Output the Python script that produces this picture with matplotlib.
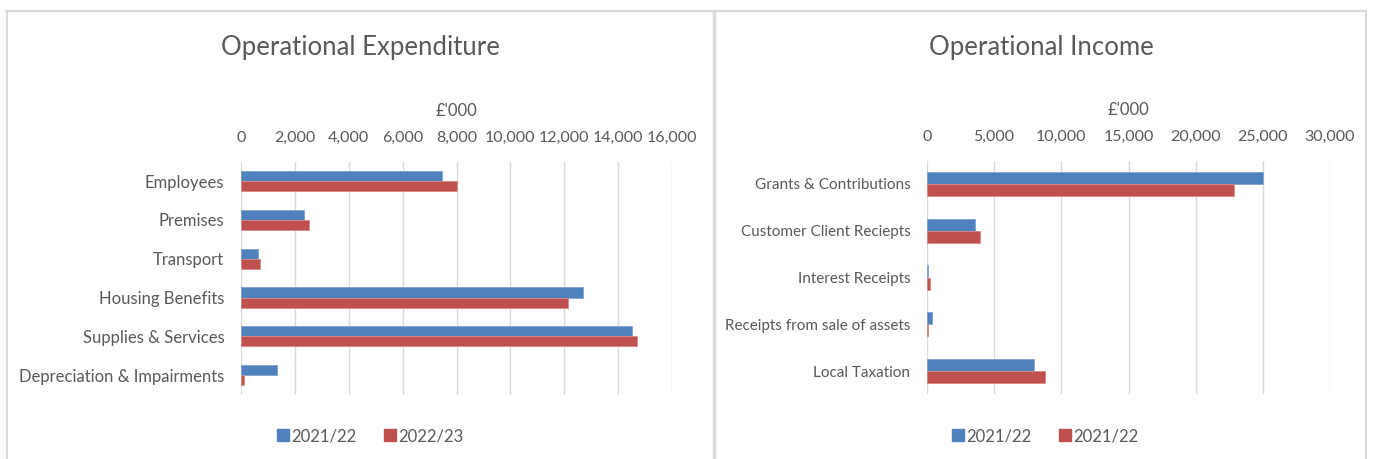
import matplotlib
matplotlib.use("Agg")
import matplotlib.pyplot as plt
from matplotlib.lines import Line2D
import numpy as np

plt.rcParams['font.family'] = ['Lato', 'DejaVu Sans']

# ---- data ----
exp_categories = ["Employees", "Premises", "Transport", "Housing Benefits",
                  "Supplies & Services", "Depreciation & Impairments"]
exp_2021 = [7450, 2330, 620, 12680, 14500, 1330]
exp_2022 = [8000, 2530, 720, 12130, 14700, 120]
exp_ticks = [0, 2000, 4000, 6000, 8000, 10000, 12000, 14000, 16000]
exp_series = ["2021/22", "2022/23"]

inc_categories = ["Grants & Contributions", "Customer Client Reciepts",
                  "Interest Receipts", "Receipts from sale of assets", "Local Taxation"]
inc_a = [25000, 3560, 100, 380, 7950]
inc_b = [22870, 3970, 220, 100, 8770]
inc_ticks = [0, 5000, 10000, 15000, 20000, 25000, 30000]
inc_series = ["2021/22", "2021/22"]

BLUE = "#4F81BD"
RED = "#C0504D"
TXT = "#595959"
GRID = "#D9D9D9"

W, H = 1373, 459
fig = plt.figure(figsize=(W / 100, H / 100), dpi=100)
fig.patch.set_facecolor("white")


def px_axes(x0, y_top, x1, y_bot):
    return fig.add_axes([x0 / W, 1 - y_bot / H, (x1 - x0) / W, (y_bot - y_top) / H])


def draw(ax, cats, a, b, ticks, xmax, ysize):
    n = len(cats)
    y = np.arange(n)
    h = 0.26
    ax.barh(y - h / 2, a, height=h, color=BLUE, edgecolor="#7FA3D1", linewidth=0.6, zorder=3)
    ax.barh(y + h / 2, b, height=h, color=RED, edgecolor="#D98A88", linewidth=0.6, zorder=3)
    ax.set_ylim(n - 0.5, -0.5)
    ax.set_xlim(0, xmax)
    ax.set_yticks(y)
    ax.set_yticklabels(cats)
    ax.set_xticks(ticks)
    ax.set_xticklabels([f"{t:,}" for t in ticks])
    ax.xaxis.tick_top()
    ax.xaxis.set_label_position("top")
    ax.tick_params(axis="x", length=0, pad=12, labelsize=11.5, colors=TXT)
    ax.tick_params(axis="y", length=0, pad=12, labelsize=ysize, colors=TXT)
    for s in ax.spines.values():
        s.set_visible(False)
    ax.grid(axis="x", color=GRID, linewidth=1, zorder=0)
    ax.set_axisbelow(True)
    ax.set_xlabel("£'000", fontsize=12, color=TXT, labelpad=11)


axL = px_axes(241, 161.6, 672, 394.6)
draw(axL, exp_categories, exp_2021, exp_2022, exp_ticks, 16000, 12)
axR = px_axes(927, 160.6, 1330, 394.4)
draw(axR, inc_categories, inc_a, inc_b, inc_ticks, 30000, 11)

# titles
fig.text(360 / W, 1 - 47 / H, "Operational Expenditure", ha="center", va="center",
         fontsize=18.5, color=TXT)
fig.text(1041 / W, 1 - 47 / H, "Operational Income", ha="center", va="center",
         fontsize=18.5, color=TXT)

# legends
def legend(xc, labels):
    handles = [Line2D([], [], marker="s", linestyle="", markersize=9, color=BLUE),
               Line2D([], [], marker="s", linestyle="", markersize=9, color=RED)]
    fig.legend(handles, labels, loc="center", bbox_to_anchor=(xc / W, 1 - 436 / H),
               ncol=2, frameon=False, fontsize=12, labelcolor=TXT,
               handletextpad=0.1, columnspacing=1.6, handlelength=0.8)

legend(370, exp_series)
legend(1045, inc_series)

# chart borders
bc = "#D9D9D9"
fig.add_artist(Line2D([6 / W, 1366 / W], [1 - 11 / H, 1 - 11 / H], color=bc, linewidth=1.5))
fig.add_artist(Line2D([7 / W, 7 / W], [0, 1 - 11 / H], color=bc, linewidth=1.5))
fig.add_artist(Line2D([714 / W, 714 / W], [0, 1 - 11 / H], color=bc, linewidth=2.5))
fig.add_artist(Line2D([1366 / W, 1366 / W], [0, 1 - 11 / H], color=bc, linewidth=1.5))

fig.savefig("out.png", dpi=100, facecolor="white")
